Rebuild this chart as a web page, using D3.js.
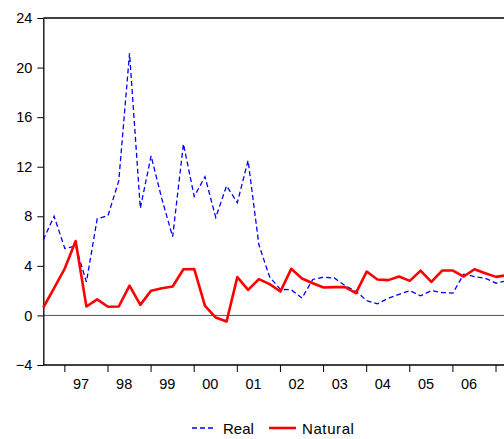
<!DOCTYPE html>
<html>
<head>
<meta charset="utf-8">
<script src="https://cdn.jsdelivr.net/npm/d3@7"></script>
<style>
  html, body { margin: 0; padding: 0; background: #fff; overflow: hidden; }
  svg { display: block; font-family: "Liberation Sans", Arial, sans-serif; }
</style>
</head>
<body>
<svg id="chart" width="504" height="439"></svg>
<script>
// Quarterly observations, 1996Q3 – 2007Q2
const startYear = 1996, startQuarter = 3;
const realRate = [
  6.1, 8.0, 5.4, 5.6, 2.7, 7.8, 8.05, 10.85, 21.15, 8.65,
  12.87, 9.4, 6.35, 13.84, 9.6, 11.2, 7.9, 10.45, 9.1, 12.5,
  5.7, 3.1, 2.1, 2.07, 1.4, 2.9, 3.09, 3.02, 2.4, 1.95,
  1.2, 0.93, 1.39, 1.7, 2.0, 1.58, 2.0, 1.85, 1.8, 3.33,
  3.14, 3.0, 2.6, 2.8
];
const naturalRate = [
  0.64, 2.2, 3.8, 6.0, 0.72, 1.3, 0.7, 0.72, 2.4, 0.85,
  2.0, 2.2, 2.33, 3.73, 3.75, 0.77, -0.17, -0.49, 3.09, 2.06,
  2.93, 2.52, 1.93, 3.76, 2.98, 2.6, 2.25, 2.28, 2.28, 1.8,
  3.54, 2.9, 2.85, 3.14, 2.79, 3.62, 2.71, 3.62, 3.62, 3.14,
  3.73, 3.41, 3.11, 3.25
];
const yTicks = [-4, 0, 4, 8, 12, 16, 20, 24];
const yearLabels = ["97", "98", "99", "00", "01", "02", "03", "04", "05", "06"];
const seriesNames = ["Real", "Natural"];

const svg = d3.select("#chart");
const plotLeft = 43.3, plotRight = 506.8, plotTop = 18, plotBottom = 365;

const x = d3.scaleLinear().domain([0, realRate.length - 1]).range([plotLeft, plotRight]);
const y = d3.scaleLinear().domain([-4, 24]).range([plotBottom, plotTop]);

// index of the first quarter of each labelled year
const q1Index = yearLabels.map((_, i) => (4 - (startQuarter - 1)) % 4 + i * 4);

// top edge of the frame
svg.append("line").attr("x1", plotLeft).attr("x2", plotRight).attr("y1", plotTop).attr("y2", plotTop)
  .attr("stroke", "#000").attr("stroke-width", 1.3);

// zero reference line
svg.append("line").attr("x1", plotLeft).attr("x2", plotRight).attr("y1", y(0)).attr("y2", y(0))
  .attr("stroke", "#555").attr("stroke-width", 1);

// left axis
const yAxis = d3.axisLeft(y).tickValues(yTicks).tickSize(6).tickPadding(5).tickSizeOuter(0);
const gy = svg.append("g").attr("transform", `translate(${plotLeft},0)`).call(yAxis);
gy.select(".domain").attr("stroke", "#000").attr("stroke-width", 1.3);
gy.selectAll(".tick line").attr("stroke", "#000");
gy.selectAll(".tick text").attr("font-size", 14.5).attr("fill", "#000")
  .attr("font-family", "'Liberation Sans', Arial, sans-serif");

// bottom axis: ticks at Q1 of each year, labels centred on the year's quarters
const xAxisG = svg.append("g").attr("transform", `translate(0,${plotBottom})`);
xAxisG.append("line").attr("x1", plotLeft).attr("x2", plotRight).attr("y1", 0).attr("y2", 0)
  .attr("stroke", "#000").attr("stroke-width", 1.3);
const ticks = q1Index.concat([q1Index[q1Index.length - 1] + 4]);
xAxisG.selectAll("line.t").data(ticks).join("line").attr("class", "t")
  .attr("x1", d => x(d)).attr("x2", d => x(d)).attr("y1", 0).attr("y2", 7)
  .attr("stroke", "#000").attr("stroke-width", 1);
xAxisG.selectAll("text").data(yearLabels).join("text")
  .attr("x", (d, i) => x(q1Index[i] + 1.5)).attr("y", 23.5)
  .attr("text-anchor", "middle").attr("font-size", 14.5).attr("fill", "#000")
  .text(d => d);

// series lines
const line = d3.line().x((d, i) => x(i)).y(d => y(d));
svg.append("path").datum(realRate).attr("d", line)
  .attr("fill", "none").attr("stroke", "#0000ff").attr("stroke-width", 1.3)
  .attr("stroke-dasharray", "5,3");
svg.append("path").datum(naturalRate).attr("d", line)
  .attr("fill", "none").attr("stroke", "#ff0000").attr("stroke-width", 2.6)
  .attr("stroke-linejoin", "round");

// legend
const legend = svg.append("g").attr("transform", "translate(0,428)");
legend.append("line").attr("x1", 192).attr("x2", 216).attr("y1", 0).attr("y2", 0)
  .attr("stroke", "#0000ff").attr("stroke-width", 1.3).attr("stroke-dasharray", "5,3");
legend.append("text").attr("x", 223).attr("y", 5.5).attr("font-size", 15).text(seriesNames[0]);
legend.append("line").attr("x1", 269).attr("x2", 296).attr("y1", 0).attr("y2", 0)
  .attr("stroke", "#ff0000").attr("stroke-width", 2.6);
legend.append("text").attr("x", 302).attr("y", 5.5).attr("font-size", 15)
  .attr("letter-spacing", 0.6).text(seriesNames[1]);
</script>
</body>
</html>
